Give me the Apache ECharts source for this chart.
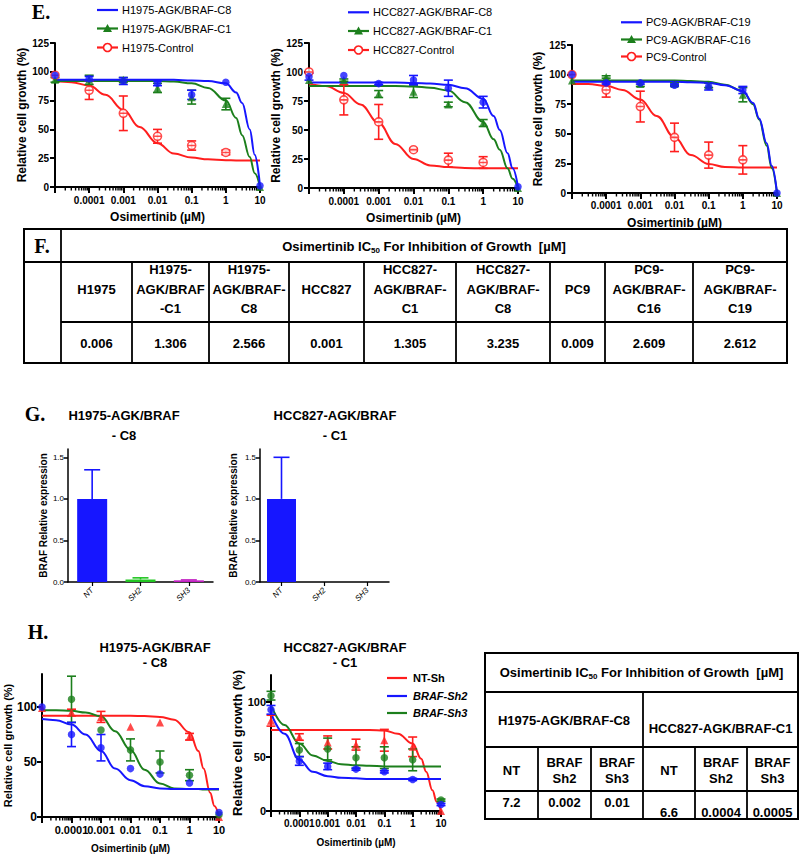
<!DOCTYPE html>
<html><head><meta charset="utf-8">
<script src="https://cdn.jsdelivr.net/npm/echarts@6/dist/echarts.min.js"></script>
<style>html,body{margin:0;padding:0;background:#fff}#c{width:800px;height:854px}</style>
</head><body><div id="c"></div><script>
// ---------- DATA ----------
const doseX = [0.00001, 0.0001, 0.001, 0.01, 0.1, 1, 10]; // 0 µM drawn at 1e-5
const fitX = [0.00001, 0.00003, 0.0001, 0.0003, 0.001, 0.003, 0.01, 0.03, 0.1, 0.3, 1, 2, 3, 5, 7, 10];
const xTickLabels = ['0.0001', '0.001', '0.01', '0.1', '1', '10'];
const yTicksE = [0, 25, 50, 75, 100, 125];
const yTicksH = [0, 50, 100];
const yTicksG = [0, 0.5, 1.0, 1.5];

// E - H1975
const e1Names = ['H1975-AGK/BRAF-C8', 'H1975-AGK/BRAF-C1', 'H1975-Control'];
const e1C8 = [97, 94, 92, 90, 80, 91, 1];
const e1C8Err = [0, 2, 3, 2, 4, 0, 0];
const e1C1 = [93, 93, 93, 86, 78, 72, 0];
const e1C1Err = [2, 4, 2, 4, 6, 5, 0];
const e1Ctl = [97, 84, 64, 44, 36, 30, null];
const e1CtlErr = [0, 8, 15, 6, 4, 2, 0];
const e1C8Fit = [93, 93, 93, 93, 93, 93, 93, 93, 92.5, 92, 90, 82, 73, 50, 28, 1];
const e1C1Fit = [92, 92, 92, 92, 92, 92, 92, 91.5, 90, 86, 75, 60, 45, 26, 12, 0];
const e1CtlFit = [92, 91, 88, 80, 67, 52, 38, 29, 25.5, 24, 23.3, 23.1, 23, 23, 23, 23];

// E - HCC827
const e2Names = ['HCC827-AGK/BRAF-C8', 'HCC827-AGK/BRAF-C1', 'HCC827-Control'];
const e2C8 = [96, 97, 90, 93, 86, 74, 1];
const e2C8Err = [3, 0, 1, 4, 7, 5, 0];
const e2C1 = [93, 93, 81, 83, 72, 56, 0];
const e2C1Err = [0, 1, 3, 5, 2, 3, 0];
const e2Ctl = [100, 76, 57, 33, 24, 22, null];
const e2CtlErr = [0, 13, 15, 1, 6, 5, 0];
const e2C8Fit = [91, 91, 91, 91, 91, 91, 90.5, 90, 89, 86, 77, 62, 50, 30, 17, 1];
const e2C1Fit = [88, 88, 88, 88, 88, 88, 87.5, 86.5, 84, 74, 57, 42, 33, 17, 8, 0];
const e2CtlFit = [90, 88, 82, 72, 56, 38, 25, 19.5, 18, 17.2, 17, 17, 17, 17, 17, 17];

// E - PC9
const e3Names = ['PC9-AGK/BRAF-C19', 'PC9-AGK/BRAF-C16', 'PC9-Control'];
const e3C19 = [100, 93, 93, 91, 90, 87, 0];
const e3C19Err = [0, 1, 1, 1, 3, 3, 0];
const e3C16 = [95, 98, 92, 92, 91, 83, 0];
const e3C16Err = [0, 1, 2, 1, 2, 6, 0];
const e3Ctl = [100, 87, 73, 47, 32, 28, null];
const e3CtlErr = [0, 6, 13, 12, 11, 12, 0];
const e3C19Fit = [94, 94, 94, 94, 94, 94, 94, 93.5, 93, 91, 86, 76, 63, 42, 23, 0];
const e3C16Fit = [95, 95, 95, 95, 95, 95, 95, 94.5, 94, 91.5, 86, 75, 62, 40, 21, 0];
const e3CtlFit = [92, 92, 90.5, 87, 79, 65, 47, 32, 24.5, 22, 21.5, 21.5, 21.5, 21.5, 21.5, 21.5];

// F table
const fHeaders = ['H1975', 'H1975-\nAGK/BRAF\n-C1', 'H1975-\nAGK/BRAF-\nC8', 'HCC827', 'HCC827-\nAGK/BRAF-\nC1', 'HCC827-\nAGK/BRAF-\nC8', 'PC9', 'PC9-\nAGK/BRAF-\nC16', 'PC9-\nAGK/BRAF-\nC19'];
const fValues = ['0.006', '1.306', '2.566', '0.001', '1.305', '3.235', '0.009', '2.609', '2.612'];
const tableTitle = ['Osimertinib IC', '50', ' For Inhibition of Growth  [µM]'];

// G bars
const gCats = ['NT', 'SH2', 'SH3'];
const g1Title = ['H1975-AGK/BRAF', '- C8'];
const g1Vals = [1.0, 0.03, 0.02];
const g1Err = [0.35, 0.02, 0.005];
const g2Title = ['HCC827-AGK/BRAF', '- C1'];
const g2Vals = [1.0, 0, 0];
const g2Err = [0.5, 0, 0];

// H - H1975-AGK/BRAF-C8
const hNames = ['NT-Sh', 'BRAF-Sh2', 'BRAF-Sh3'];
const h1NT = [99, 95, 91, 82, 86, 73, 0];
const h1NTErr = [0, 3, 5, 0, 0, 3, 0];
const h1Sh2 = [100, 75, 63, 44, 39, 31, 4];
const h1Sh2Err = [0, 11, 12, 0, 0, 0, 0];
const h1Sh3 = [null, 107, 79, 61, 50, 38, 2];
const h1Sh3Err = [0, 21, 0, 10, 10, 5, 0];
const h1NTFit = [92, 92, 92, 92, 92, 92, 92, 91.8, 91, 88.5, 77, 60, 44, 22, 10, 0];
const h1Sh2Fit = [89, 88, 84, 75, 60, 44, 33.5, 28, 26, 25.5, 25.5, 25.5, 25.5, 25.5, 25.5, 25.5];
const h1Sh3Fit = [97, 97, 96.5, 95, 91.5, 78, 61, 43, 30.5, 26, 25.5, 25.5, 25, 25, 25, 25];

// H - HCC827-AGK/BRAF-C1
const h2NT = [83, 68, 63, 61, 65, 59, 0];
const h2NTErr = [5, 3, 6, 5, 10, 9, 0];
const h2Sh2 = [93, 46, 41, 38.5, 36, 29, 6];
const h2Sh2Err = [4, 4, 3, 1, 1, 1, 1];
const h2Sh3 = [106, 56, 57, 49, 49, 47, 10];
const h2Sh3Err = [4, 6, 10, 10, 10, 10, 1];
const h2NTFit = [74.5, 74.5, 74.5, 74.5, 74.5, 74.5, 74.5, 74.5, 74, 71, 62, 48, 36, 19, 8.5, 0];
const h2Sh2Fit = [90, 71, 47, 36, 32, 30.5, 30, 29.5, 29.5, 29.5, 29.5, 29.5, 29.5, 29.5, 29.5, 29.5];
const h2Sh3Fit = [97, 79, 62, 51, 46, 43, 42, 41.5, 41, 41, 41, 41, 41, 41, 41, 41];

// H table
const hGroups = ['H1975-AGK/BRAF-C8', 'HCC827-AGK/BRAF-C1'];
const hSubHeads = ['NT', 'BRAF\nSh2', 'BRAF\nSh3', 'NT', 'BRAF\nSh2', 'BRAF\nSh3'];
const hValues = ['7.2', '0.002', '0.01', '6.6', '0.0004', '0.0005'];

// ---------- STYLE ----------
const FONT = '"Liberation Sans", Arial, Helvetica, sans-serif';
const SERIF = '"Liberation Serif", "Times New Roman", serif';
const BLUE = '#1616ff', GREEN = '#1c7f1c', RED = '#ff1e1e';
const CIRC_LINE = 'path://M0,-10A10,10 0 1 1 0,10A10,10 0 1 1 0,-10ZM-10,0L10,0';

const minorTicks = [];
for (let d = -5; d < 1; d++) for (let m = 2; m <= 9; m++) minorTicks.push(+(m * Math.pow(10, d)).toPrecision(3));

function fmtLog(v) {
  for (const s of xTickLabels) if (Math.abs(Math.log10(parseFloat(s)) - Math.log10(v)) < 0.01) return s;
  return '';
}

const grids = [
  {left: 55, top: 43, width: 205, height: 144},
  {left: 309, top: 43, width: 209, height: 145},
  {left: 572, top: 45, width: 205, height: 148},
  {left: 68, top: 449, width: 145, height: 133},
  {left: 260, top: 449, width: 129, height: 133},
  {left: 42, top: 674, width: 177, height: 143},
  {left: 271, top: 675, width: 170, height: 136}
].map(g => Object.assign({outerBoundsMode: 'none', containLabel: false}, g));

function logXAxis(gi, fs, margin, gap, nfs) {
  return {type: 'log', logBase: 10, gridIndex: gi, min: 0.00001, max: 10, splitNumber: 6,
    axisLine: {show: true, onZero: false, lineStyle: {color: '#000', width: 2}},
    axisTick: {show: true, length: 6, lineStyle: {color: '#000', width: 2}},
    axisLabel: {show: true, color: '#000', fontFamily: FONT, fontWeight: 'bold', fontSize: fs, margin, formatter: fmtLog, hideOverlap: false},
    splitLine: {show: false}, minorTick: {show: false},
    name: 'Osimertinib (µM)', nameLocation: 'middle', nameGap: gap,
    nameTextStyle: {color: '#000', fontFamily: FONT, fontWeight: 'bold', fontSize: nfs}};
}
function valYAxis(gi, o) {
  return {type: 'value', gridIndex: gi, min: o.min, max: o.max, interval: o.interval,
    axisLine: {show: true, onZero: false, lineStyle: {color: '#000', width: o.lw || 2}},
    axisTick: {show: true, length: o.tl || 5, lineStyle: {color: '#000', width: o.lw || 2}, customValues: o.ticks},
    axisLabel: {color: '#000', fontFamily: FONT, fontWeight: o.fw || 'bold', fontSize: o.fs, margin: o.margin, customValues: o.ticks,
      formatter: v => (o.ticks.some(t => Math.abs(t - v) < 1e-9) ? (o.dec ? v.toFixed(o.dec) : String(v)) : '')},
    splitLine: {show: false},
    name: o.name, nameLocation: 'middle', nameGap: o.gap,
    nameTextStyle: {color: '#000', fontFamily: FONT, fontWeight: 'bold', fontSize: o.nfs}};
}
function catXAxis(gi) {
  return {type: 'category', gridIndex: gi, data: gCats,
    axisLine: {show: true, onZero: false, lineStyle: {color: '#000', width: 1.5}},
    axisTick: {show: true, alignWithLabel: true, length: 4, lineStyle: {color: '#000', width: 1.2}},
    axisLabel: {rotate: 45, fontSize: 8, fontStyle: 'italic', fontFamily: FONT, color: '#000', margin: 7},
    splitLine: {show: false}};
}

const xAxes = [
  logXAxis(0, 10, 8, 24, 12),
  logXAxis(1, 10, 8, 24, 12),
  logXAxis(2, 10, 7, 24, 12),
  catXAxis(3), catXAxis(4),
  logXAxis(5, 11, 7, 26, 10),
  logXAxis(6, 10, 7, 26, 10)
];
const RCG = 'Relative cell growth (%)';
const yAxes = [
  valYAxis(0, {min: 0, max: 125, interval: 25, ticks: yTicksE, fs: 10, margin: 6, name: RCG, gap: 22, nfs: 12}),
  valYAxis(1, {min: 0, max: 125, interval: 25, ticks: yTicksE, fs: 10, margin: 6, name: RCG, gap: 27, nfs: 12}),
  valYAxis(2, {min: 0, max: 125, interval: 25, ticks: yTicksE, fs: 10, margin: 6, name: RCG, gap: 28, nfs: 12}),
  valYAxis(3, {min: 0, max: 1.6, interval: 0.5, ticks: yTicksG, fs: 8, fw: 'normal', dec: 1, margin: 4, lw: 1.5, tl: 4, name: 'BRAF Relative expression', gap: 18, nfs: 10}),
  valYAxis(4, {min: 0, max: 1.6, interval: 0.5, ticks: yTicksG, fs: 8, fw: 'normal', dec: 1, margin: 4, lw: 1.5, tl: 4, name: 'BRAF Relative expression', gap: 22, nfs: 10}),
  valYAxis(5, {min: 0, max: 130, interval: 50, ticks: yTicksH, fs: 12, margin: 5, name: RCG, gap: 24, nfs: 11}),
  valYAxis(6, {min: 0, max: 125, interval: 50, ticks: yTicksH, fs: 11, margin: 5, name: RCG, gap: 26, nfs: 13})
];

// ---------- SERIES ----------
const series = [];
function fit(gi, name, ys, color) {
  series.push({type: 'line', name, xAxisIndex: gi, yAxisIndex: gi,
    data: fitX.map((x, i) => [x, ys[i]]), smooth: 0.4, smoothMonotone: 'x',
    showSymbol: false, symbol: 'none',
    lineStyle: {color, width: 2}, itemStyle: {color}, clip: false, z: 2, silent: true});
}
function errBars(gi, ys, errs, color, upperOnly, xs, cap) {
  const xv = xs || doseX;
  const data = [];
  xv.forEach((x, i) => { if (ys[i] != null && errs[i] > 0) data.push([x, upperOnly ? ys[i] : ys[i] - errs[i], ys[i] + errs[i]]); });
  const hw = cap || 4.5;
  series.push({type: 'custom', xAxisIndex: gi, yAxisIndex: gi, data, z: 3, silent: true,
    encode: {x: 0, y: [1, 2]},
    renderItem: (params, api) => {
      const x = api.value(0);
      const lo = api.coord([x, api.value(1)]), hi = api.coord([x, api.value(2)]);
      const st = {stroke: color, lineWidth: 1.6};
      const ch = [
        {type: 'line', shape: {x1: lo[0], y1: lo[1], x2: hi[0], y2: hi[1]}, style: st},
        {type: 'line', shape: {x1: hi[0] - hw, y1: hi[1], x2: hi[0] + hw, y2: hi[1]}, style: st}
      ];
      if (!upperOnly) ch.push({type: 'line', shape: {x1: lo[0] - hw, y1: lo[1], x2: lo[0] + hw, y2: lo[1]}, style: st});
      return {type: 'group', children: ch};
    }});
}
function pts(gi, name, ys, color, symbol, size, hollow) {
  series.push({type: 'scatter', name, xAxisIndex: gi, yAxisIndex: gi,
    data: doseX.map((x, i) => (ys[i] == null ? null : [x, ys[i]])).filter(Boolean),
    symbol, symbolSize: size,
    itemStyle: hollow ? {color: '#fff', borderColor: color, borderWidth: 1.6} : {color},
    z: 4, clip: false, silent: true});
}
function minor(gi) {
  series.push({type: 'custom', xAxisIndex: gi, yAxisIndex: gi, data: minorTicks.map(v => [v, 0]), silent: true, z: 1,
    renderItem: (params, api) => {
      const p = api.coord([api.value(0), 0]);
      return {type: 'line', shape: {x1: p[0], y1: p[1], x2: p[0], y2: p[1] + 3.5}, style: {stroke: '#000', lineWidth: 1.4}};
    }});
}

// E panels
[[0, e1Names, [e1C8, e1C8Err, e1C8Fit], [e1C1, e1C1Err, e1C1Fit], [e1Ctl, e1CtlErr, e1CtlFit]],
 [1, e2Names, [e2C8, e2C8Err, e2C8Fit], [e2C1, e2C1Err, e2C1Fit], [e2Ctl, e2CtlErr, e2CtlFit]],
 [2, e3Names, [e3C19, e3C19Err, e3C19Fit], [e3C16, e3C16Err, e3C16Fit], [e3Ctl, e3CtlErr, e3CtlFit]]
].forEach(([gi, names, b, g, r]) => {
  minor(gi);
  fit(gi, names[2], r[2], RED);
  fit(gi, names[1], g[2], GREEN);
  fit(gi, names[0], b[2], BLUE);
  errBars(gi, r[0], r[1], RED);
  errBars(gi, g[0], g[1], GREEN);
  errBars(gi, b[0], b[1], BLUE);
  pts(gi, names[2] + ' data', r[0], RED, CIRC_LINE, 8, true);
  pts(gi, names[1] + ' data', g[0], GREEN, 'triangle', 8);
  pts(gi, names[0] + ' data', b[0], BLUE, 'circle', 7.5);
});

// G panels
const gColors = [BLUE, '#22c622', '#c21fc2'];
[[3, g1Vals, g1Err, 30], [4, g2Vals, g2Err, 29]].forEach(([gi, vals, errs, bw]) => {
  series.push({type: 'bar', xAxisIndex: gi, yAxisIndex: gi, barWidth: bw, silent: true,
    data: vals.map((v, i) => ({value: v, itemStyle: {color: gColors[i]}}))});
  vals.forEach((v, i) => {
    const ys = gCats.map((c, j) => (j === i ? v : null));
    const es = gCats.map((c, j) => (j === i ? errs[i] : 0));
    errBars(gi, ys, es, gColors[i], true, gCats, 8);
  });
});

// H panels
[[5, 'C8 ', [h1NT, h1NTErr, h1NTFit], [h1Sh2, h1Sh2Err, h1Sh2Fit], [h1Sh3, h1Sh3Err, h1Sh3Fit]],
 [6, '', [h2NT, h2NTErr, h2NTFit], [h2Sh2, h2Sh2Err, h2Sh2Fit], [h2Sh3, h2Sh3Err, h2Sh3Fit]]
].forEach(([gi, pre, r, b, g]) => {
  minor(gi);
  fit(gi, pre + hNames[0], r[2], RED);
  fit(gi, pre + hNames[2], g[2], GREEN);
  fit(gi, pre + hNames[1], b[2], BLUE);
  errBars(gi, r[0], r[1], RED);
  errBars(gi, g[0], g[1], GREEN);
  errBars(gi, b[0], b[1], BLUE);
  pts(gi, pre + 'NT pts', r[0], RED, 'triangle', 8);
  pts(gi, pre + 'Sh3 pts', g[0], GREEN, 'circle', 7.5);
  pts(gi, pre + 'Sh2 pts', b[0], BLUE, 'circle', 7.5);
});

// ---------- GRAPHICS (legends, labels, tables) ----------
const GR = [];
function T(x, y, text, fs, o) {
  o = o || {};
  GR.push({type: 'text', x, y, silent: true, z: 100,
    style: {text, fill: '#000', fontSize: fs, fontWeight: o.fw || 'bold', fontFamily: o.ff || FONT, fontStyle: o.fst || 'normal',
      align: o.align || 'center', verticalAlign: 'middle', lineHeight: o.lh || Math.round(fs * 1.2), rich: o.rich}});
}
function L(x1, y1, x2, y2, w, c) { GR.push({type: 'line', silent: true, z: 100, shape: {x1, y1, x2, y2}, style: {stroke: c || '#000', lineWidth: w || 1.8}}); }
function R(x, y, w, h) { GR.push({type: 'rect', silent: true, z: 100, shape: {x, y, width: w, height: h}, style: {fill: 'none', stroke: '#000', lineWidth: 2}}); }

// legend rows: line + optional marker + label
function legendRow(x, y, label, color, marker, o) {
  o = o || {};
  const w = o.w || 21;
  L(x, y, x + w, y, 2.2, color);
  const cx = x + w / 2;
  if (marker === 'triangle') GR.push({type: 'polygon', silent: true, z: 101, shape: {points: [[cx, y - 4.5], [cx + 4.5, y + 3.5], [cx - 4.5, y + 3.5]]}, style: {fill: color}});
  if (marker === 'ocircle') GR.push({type: 'circle', silent: true, z: 101, shape: {cx, cy: y, r: 4}, style: {fill: '#fff', stroke: color, lineWidth: 1.6}});
  if (marker === 'ocircle') L(cx - 4, y, cx + 4, y, 1.4, color);
  T(x + w + (o.gap || 4), y, label, o.fs || 11, {align: 'left', fw: o.fw || 'normal', fst: o.fst});
}
[[97, [10, 28.5, 47.5], e1Names], [348, [12.3, 31, 50], e2Names], [621, [22.3, 39.5, 56.5], e3Names]].forEach(([x, ys, names]) => {
  legendRow(x, ys[0], names[0], BLUE, 'none');
  legendRow(x, ys[1], names[1], GREEN, 'triangle');
  legendRow(x, ys[2], names[2], RED, 'ocircle');
});
legendRow(387, 678, hNames[0], RED, 'none', {w: 20, gap: 6, fw: 'bold'});
legendRow(387, 696, hNames[1], BLUE, 'none', {w: 20, gap: 6, fw: 'bold', fst: 'italic'});
legendRow(387, 713, hNames[2], GREEN, 'none', {w: 20, gap: 6, fw: 'bold', fst: 'italic'});

T(41, 12, 'E.', 20, {ff: SERIF});
T(35, 414, 'G.', 20, {ff: SERIF});
T(38, 632, 'H.', 20, {ff: SERIF});

const richSub = {s: {fontSize: 8, fontWeight: 'bold', fontFamily: FONT, fill: '#000', padding: [8, 0, 0, 0]}};
const titleRich = tableTitle[0] + '{s|' + tableTitle[1] + '}' + tableTitle[2];

// F table
const fCols = [24, 61, 132, 209, 289, 364, 456, 550, 605, 693, 787];
const fRows = [229, 262, 322, 363];
R(fCols[0], fRows[0], fCols[10] - fCols[0], fRows[3] - fRows[0]);
L(fCols[0], fRows[1], fCols[10], fRows[1]);
L(fCols[1], fRows[2], fCols[10], fRows[2]);
L(fCols[1], fRows[0], fCols[1], fRows[3]);
for (let i = 2; i < 10; i++) L(fCols[i], fRows[1], fCols[i], fRows[3]);
T(42, 246, 'F.', 20, {ff: SERIF});
T((fCols[1] + fCols[10]) / 2, 246, titleRich, 13, {rich: richSub});
fHeaders.forEach((h, i) => T((fCols[i + 1] + fCols[i + 2]) / 2, 289, h, 13, {lh: 19.5}));
fValues.forEach((v, i) => T((fCols[i + 1] + fCols[i + 2]) / 2, 343, v, 13));

// G titles
T(124, 415, g1Title[0], 13); T(124, 435, g1Title[1], 13);
T(335, 415, g2Title[0], 13); T(335, 435, g2Title[1], 13);
// H titles
T(155, 647, g1Title[0], 13); T(155, 662, g1Title[1], 13);
T(345, 647, g2Title[0], 13); T(345, 662, g2Title[1], 13);

// H table
const hX = [485, 538, 591, 643, 695, 747, 798];
const hY = [653, 692, 747, 791, 819];
R(hX[0], hY[0], hX[6] - hX[0], hY[4] - hY[0]);
L(hX[0], hY[1], hX[6], hY[1]);
L(hX[0], hY[2], hX[6], hY[2]);
L(hX[0], hY[3], hX[6], hY[3]);
L(hX[3], hY[1], hX[3], hY[4]);
[1, 2, 4, 5].forEach(i => L(hX[i], hY[2], hX[i], hY[4]));
T((hX[0] + hX[6]) / 2, 672, titleRich, 13, {rich: richSub});
T((hX[0] + hX[3]) / 2, 720, hGroups[0], 13);
T((hX[3] + hX[6]) / 2, 728, hGroups[1], 13);
hSubHeads.forEach((h, i) => T((hX[i] + hX[i + 1]) / 2, 770, h, 13, {lh: 16}));
hValues.forEach((v, i) => T((hX[i] + hX[i + 1]) / 2, i < 3 ? 802 : 812, v, 13));

const chart = echarts.init(document.getElementById('c'), null, {renderer: 'svg', width: 800, height: 854});
chart.setOption({
  animation: false,
  backgroundColor: '#fff',
  textStyle: {fontFamily: FONT},
  grid: grids,
  xAxis: xAxes,
  yAxis: yAxes,
  series,
  graphic: {elements: GR}
});
</script></body></html>
